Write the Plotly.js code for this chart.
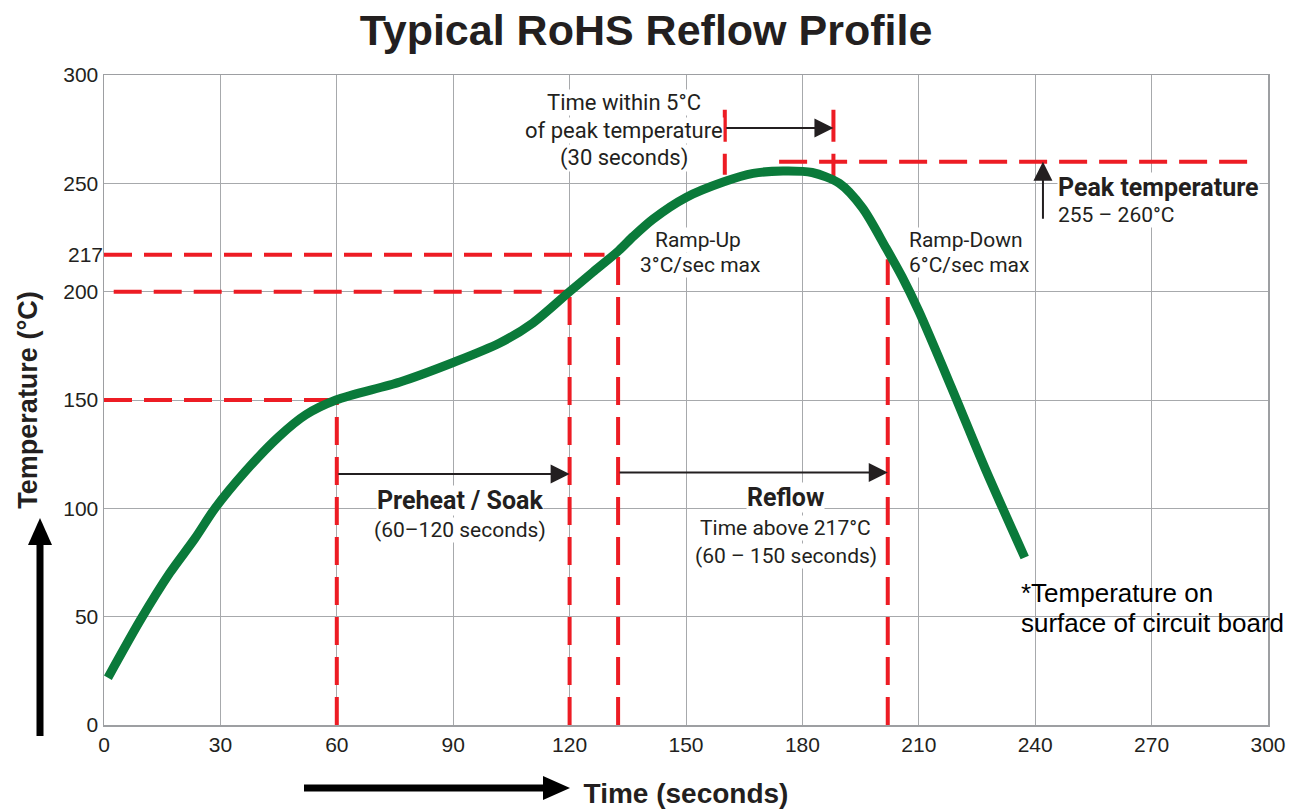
<!DOCTYPE html>
<html>
<head>
<meta charset="utf-8">
<script src="https://cdn.plot.ly/plotly-3.0.1.min.js"></script>
<style>html,body{margin:0;padding:0;background:#fff;}#chart{width:1303px;height:812px;}</style>
</head>
<body>
<div id="chart"></div>
<script>
// ---- data ----
const timeS = [1, 9.4, 16.9, 23.4, 28.6, 36.4, 45, 52, 59.8, 76.3, 90, 102, 110.5, 120, 126, 132.7, 136.4, 141.5, 150, 159.6, 167.3, 175, 182.5, 189.5, 195.5, 201.6, 205.7, 210, 218.6, 227, 237.3];
const tempC = [21.8, 48.5, 70, 86, 100, 117, 133, 143.2, 150, 158.3, 167.3, 176.3, 185.5, 200, 209, 219, 225.5, 233.5, 243.5, 250.6, 254.6, 255.7, 255, 250, 238.6, 220, 206.8, 191, 155, 118.8, 77.3];

const xTicks = [0, 30, 60, 90, 120, 150, 180, 210, 240, 270, 300];
const yTicks = [0, 50, 100, 150, 200, 250, 300];
const liquidusTick = [217];

// horizontal red guides: level, start time, end time
const hGuideTemp  = [150, 200];
const hGuideStart = [0, 2.5];
const hGuideEnd   = [60, 120];
const liquidusTemp = 217, liquidusStart = 0, liquidusEnd = 129;
// vertical red guides: time, top temperature
const vGuideTime = [60, 120, 132.5, 202];
const vGuideTop  = [150, 200, 217, 215];
// peak guides
const peakTemp = 260;
const peakLineSpan = [174, 297];
const peakWindow = [160, 188];
const peakWindowLow = [254, 250];
const peakWindowHigh = 284;
const peakWindowArrowTemp = 275.5;
const phaseArrowTemp = [115.8, 116.5];
const peakArrowTime = 242, peakArrowFrom = 233;

// ---- styles ----
const RED = '#ed1c24', GREEN = '#0a7a3a', INK = '#231f20';
const NARROW = 'Roboto, "Liberation Sans", sans-serif';
const SANS = '"Liberation Sans", Arial, sans-serif';
const dashRed = {color: RED, width: 4, dash: '28px,12px'};

const traces = [];
hGuideTemp.forEach((t, i) => traces.push({
  x: [hGuideStart[i], hGuideEnd[i]], y: [t, t], mode: 'lines', line: dashRed, hoverinfo: 'skip'
}));
traces.push({x: [liquidusStart, liquidusEnd], y: [liquidusTemp, liquidusTemp], mode: 'lines', line: dashRed, yaxis: 'y2', hoverinfo: 'skip'});
vGuideTime.forEach((t, i) => traces.push({
  x: [t, t], y: [0, vGuideTop[i]], mode: 'lines', line: dashRed, hoverinfo: 'skip'
}));
traces.push({x: peakLineSpan, y: [peakTemp, peakTemp], mode: 'lines', line: dashRed, hoverinfo: 'skip'});
peakWindow.forEach((t, i) => traces.push({
  x: [t, t], y: [peakWindowHigh, peakWindowLow[i]], mode: 'lines', line: {color: RED, width: 4, dash: '32px,12px'}, hoverinfo: 'skip'
}));
traces.push({
  x: timeS, y: tempC, mode: 'lines', name: 'Temperature',
  line: {color: GREEN, width: 9, shape: 'spline', smoothing: 0.8}
});

// pixel -> paper helpers for decorative arrows outside the plot
const L = 104, T = 75, W = 1164, H = 650;
const px = v => (v - L) / W;
const py = v => (T + H - v) / H;

const shapes = [
  {type: 'line', xref: 'paper', yref: 'paper', x0: px(40), x1: px(40), y0: py(736), y1: py(540), line: {color: '#000', width: 7}},
  {type: 'path', xref: 'paper', yref: 'paper', fillcolor: '#000', line: {width: 0},
   path: `M ${px(40)} ${py(518)} L ${px(28)} ${py(545)} L ${px(52)} ${py(545)} Z`},
  {type: 'line', xref: 'paper', yref: 'paper', x0: px(304), x1: px(545), y0: py(788), y1: py(788), line: {color: '#000', width: 7}},
  {type: 'path', xref: 'paper', yref: 'paper', fillcolor: '#000', line: {width: 0},
   path: `M ${px(570)} ${py(788)} L ${px(543)} ${py(776)} L ${px(543)} ${py(800)} Z`}
];

const arrow = (x, y, ax, ay) => ({
  x, y, ax, ay, xref: 'x', yref: 'y', axref: 'x', ayref: 'y', text: '', showarrow: true,
  arrowhead: 2, arrowsize: 1.9, arrowwidth: 2, arrowcolor: INK, standoff: 0
});
const label = (text, x, y, size, opts = {}) => Object.assign({
  x, y, xref: 'x', yref: 'y', text, showarrow: false, bgcolor: '#fff', borderpad: 0,
  font: {family: NARROW, size, color: INK}, align: 'center', xanchor: 'center', yanchor: 'middle'
}, opts);
const note = {xanchor: 'left', align: 'left', bgcolor: 'rgba(0,0,0,0)', font: {family: SANS, size: 26, color: '#000'}};

const annotations = [
  arrow(vGuideTime[1], phaseArrowTemp[0], vGuideTime[0], phaseArrowTemp[0]),
  arrow(vGuideTime[3], phaseArrowTemp[1], vGuideTime[2], phaseArrowTemp[1]),
  arrow(peakWindow[1], peakWindowArrowTemp, peakWindow[0], peakWindowArrowTemp),
  arrow(peakArrowTime, peakTemp, peakArrowTime, peakArrowFrom),
  label('Time within 5°C', 134, 287.1, 22),
  label('of peak temperature', 134, 274.6, 22),
  label('(30 seconds)', 134, 261.7, 22),
  label('Ramp-Up', 153.1, 223.8, 21),
  label('3°C/sec max', 153.6, 212.3, 21),
  label('Ramp-Down', 222.1, 223.8, 21),
  label('6°C/sec max', 222.9, 212.3, 21),
  label('<b>Peak temperature</b>', 245.6, 248.3, 25, {xanchor: 'left'}),
  label('255 – 260°C', 245.6, 235.4, 21, {xanchor: 'left'}),
  label('<b>Preheat / Soak</b>', 91.7, 103.8, 25),
  label('(60–120 seconds)', 91.7, 90, 21),
  label('<b>Reflow</b>', 175.7, 105.2, 25),
  label('Time above 217°C', 175.7, 90.9, 21),
  label('(60 – 150 seconds)', 175.7, 78, 21),
  label('*Temperature on', 236, 60.9, 26, note),
  label('surface of circuit board', 236, 47.1, 26, note)
];

const axisCommon = {
  showline: true, mirror: true, linecolor: '#9d9fa2', linewidth: 1.5,
  showgrid: true, gridcolor: '#a7a9ac', gridwidth: 1, zeroline: false,
  ticks: '', tickfont: {family: SANS, size: 21, color: INK}, automargin: false, fixedrange: true
};

const layout = {
  width: 1303, height: 812,
  margin: {l: L, r: 1303 - L - W, t: T, b: 812 - T - H},
  paper_bgcolor: '#fff', plot_bgcolor: '#fff',
  showlegend: false,
  title: {
    text: '<b>Typical RoHS Reflow Profile</b>',
    font: {family: SANS, size: 43, color: INK},
    x: 646 / 1303, xref: 'container', xanchor: 'center',
    y: 1 - 30 / 812, yref: 'container', yanchor: 'middle'
  },
  xaxis: Object.assign({}, axisCommon, {
    range: [0, 300], tickvals: xTicks, ticktext: xTicks.map(String),
    title: {text: '<b>Time (seconds)</b>', font: {family: SANS, size: 28, color: INK}, standoff: 28}
  }),
  yaxis: Object.assign({}, axisCommon, {
    range: [0, 300], tickvals: yTicks, ticktext: yTicks.map(String),
    title: {text: '<b>Temperature (°C)</b>', font: {family: SANS, size: 27, color: INK}, standoff: 18}
  }),
  yaxis2: Object.assign({}, axisCommon, {
    overlaying: 'y', side: 'left', range: [0, 300], tickvals: liquidusTick, ticktext: liquidusTick.map(String),
    showgrid: false, showline: false
  }),
  shapes, annotations
};

Plotly.newPlot('chart', traces, layout, {staticPlot: true, displayModeBar: false});
</script>
</body>
</html>
